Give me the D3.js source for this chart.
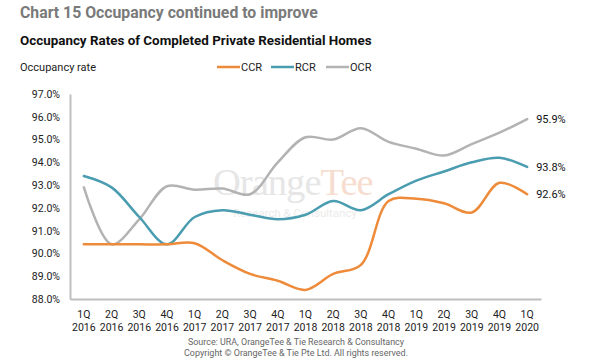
<!DOCTYPE html>
<html><head><meta charset="utf-8">
<script src="https://cdn.jsdelivr.net/npm/d3@7"></script>
<style>body{margin:0;background:#fff;} svg{display:block;font-family:Roboto, "Noto Sans", sans-serif;}</style>
</head><body>
<div id="chart"></div>
<script>
const quarters = ["1Q","2Q","3Q","4Q","1Q","2Q","3Q","4Q","1Q","2Q","3Q","4Q","1Q","2Q","3Q","4Q","1Q"];
const years = ["2016","2016","2016","2016","2017","2017","2017","2017","2018","2018","2018","2018","2019","2019","2019","2019","2020"];
const ccr = [90.4,90.4,90.4,90.4,90.45,89.7,89.1,88.8,88.4,89.1,89.5,92.3,92.4,92.2,91.8,93.1,92.6];
const rcr = [93.4,92.9,91.6,90.4,91.6,91.9,91.7,91.5,91.7,92.3,91.9,92.6,93.2,93.6,94.0,94.2,93.8];
const ocr = [92.9,90.4,91.5,92.95,92.8,92.85,92.6,94.0,95.1,95.0,95.5,94.9,94.6,94.3,94.8,95.3,95.9];
const yTicks = [88,89,90,91,92,93,94,95,96,97];
const seriesNames = ["CCR","RCR","OCR"];
const seriesColors = ["#EE8B3A","#4A9CB0","#B3B3B3"];

const W = 600, H = 360;
const svg = d3.select("#chart").append("svg").attr("width", W).attr("height", H);

const idx = d3.range(quarters.length);
const x = d3.scaleBand().domain(idx).range([70, 541]);
const y = d3.scaleLinear().domain([88, 97]).range([299, 94]);

// titles
svg.append("text").attr("x", 20).attr("y", 18).attr("font-size", 15.8).attr("font-weight", 700)
  .attr("fill", "#7a7a7a").text("Chart 15 Occupancy continued to improve");
svg.append("text").attr("x", 20).attr("y", 45).attr("font-size", 13.4).attr("font-weight", 700)
  .attr("fill", "#111").text("Occupancy Rates of Completed Private Residential Homes");
svg.append("text").attr("x", 20).attr("y", 71).attr("font-size", 11)
  .attr("fill", "#222").text("Occupancy rate");

// watermark (behind the lines): sized to fit a target width
function fitText(sel, target) {
  const base = +sel.attr("font-size");
  const w = sel.node().getComputedTextLength();
  if (w > 0) sel.attr("font-size", base * target / w);
  return sel;
}
const serif = "'Liberation Serif', 'DejaVu Serif', serif";
const wm = svg.append("text").attr("x", 213).attr("y", 195).attr("font-size", 40).attr("font-family", serif)
  .attr("letter-spacing", -1);
wm.append("tspan").attr("fill", "#e6e6e6").text("Orange");
wm.append("tspan").attr("fill", "#f6ddcf").text("Tee");
fitText(wm, 160);
const wm2 = svg.append("text").attr("x", 233).attr("y", 217).attr("font-size", 12).attr("fill", "#ebebeb")
  .text("Research & Consultancy");
fitText(wm2, 124);

// legend
const legX = [217, 271, 326];
seriesNames.forEach((n, i) => {
  svg.append("line").attr("x1", legX[i]).attr("x2", legX[i] + 23).attr("y1", 67).attr("y2", 67)
    .attr("stroke", seriesColors[i]).attr("stroke-width", 2.5);
  svg.append("text").attr("x", legX[i] + 24).attr("y", 71).attr("font-size", 11).attr("fill", "#222").text(n);
});

// y axis
const yAxis = svg.append("g").attr("transform", "translate(70,0)")
  .call(d3.axisLeft(y).tickValues(yTicks).tickSize(0).tickPadding(10).tickFormat(d => d.toFixed(1) + "%"));
yAxis.select(".domain").attr("stroke", "#bfbfbf").attr("stroke-width", 2);
yAxis.selectAll("text").attr("font-size", 10.5).attr("fill", "#222").attr("font-family", "Roboto, sans-serif");

// x axis
const xAxis = svg.append("g").attr("transform", "translate(0,299)")
  .call(d3.axisBottom(x).tickSize(0).tickFormat(""));
xAxis.select(".domain").attr("stroke", "#bfbfbf").attr("stroke-width", 2);
xAxis.selectAll(".tick").each(function(d) {
  const t = d3.select(this).append("text").attr("fill", "#222").attr("font-size", 10.5)
    .attr("text-anchor", "middle").attr("font-family", "Roboto, sans-serif");
  t.append("tspan").attr("x", 0).attr("y", 19).text(quarters[d]);
  t.append("tspan").attr("x", 0).attr("y", 32).text(years[d]);
});

// lines
const line = d3.line().x((d, i) => x(i) + x.bandwidth() / 2).y(d => y(d)).curve(d3.curveCatmullRom.alpha(0.5));
[ocr, rcr, ccr].forEach((s, k) => {
  const ci = [2, 1, 0][k];
  svg.append("path").attr("d", line(s)).attr("fill", "none").attr("stroke", seriesColors[ci])
    .attr("stroke-width", 2.5).attr("stroke-linejoin", "round").attr("stroke-linecap", "round");
});

// end labels
const last = quarters.length - 1;
[ocr, rcr, ccr].forEach(s => {
  svg.append("text").attr("x", x(last) + x.bandwidth() / 2 + 9).attr("y", y(s[last]) + 4)
    .attr("font-size", 11).attr("fill", "#111").text(s[last].toFixed(1) + "%");
});

// source
svg.append("text").attr("x", 188).attr("y", 345).attr("font-size", 8.5)
  .attr("textLength", 216).attr("lengthAdjust", "spacingAndGlyphs")
  .attr("fill", "#666").text("Source: URA, OrangeTee  & Tie Research & Consultancy");
svg.append("text").attr("x", 184).attr("y", 355.5).attr("font-size", 8.5)
  .attr("textLength", 224).attr("lengthAdjust", "spacingAndGlyphs")
  .attr("fill", "#666").text("Copyright  © OrangeTee & Tie Pte Ltd. All rights reserved.");
</script>
</body></html>
